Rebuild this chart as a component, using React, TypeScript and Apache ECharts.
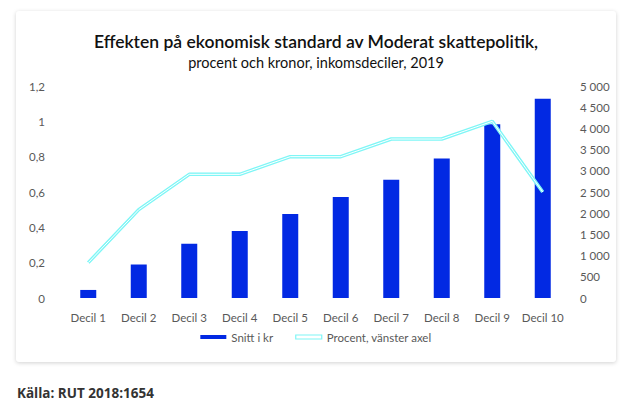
import React, { useEffect, useRef } from "react";
import * as echarts from "echarts";

const categories = ["Decil 1", "Decil 2", "Decil 3", "Decil 4", "Decil 5", "Decil 6", "Decil 7", "Decil 8", "Decil 9", "Decil 10"];
const snittKr = [190, 790, 1280, 1580, 1980, 2380, 2790, 3290, 4100, 4700];
const procent = [0.2, 0.5, 0.7, 0.7, 0.8, 0.8, 0.9, 0.9, 1.0, 0.6];
const titleText = "Effekten på ekonomisk standard av Moderat skattepolitik,";
const subtitleText = "procent och kronor, inkomsdeciler, 2019";
const sourceText = "Källa: RUT 2018:1654";

const fmtLeft = (v: number) => String(Number(v.toFixed(1))).replace(".", ",");
const fmtRight = (v: number) => String(v).replace(/\B(?=(\d{3})+(?!\d))/g, " ");

export default function App() {
  const ref = useRef<HTMLDivElement>(null);
  useEffect(() => {
    if (!ref.current) return;
    const chart = echarts.init(ref.current, undefined, { renderer: "svg" });
    const labelColor = "#595959";
    chart.setOption({
      animation: false,
      textStyle: { fontFamily: "Lato" },
      title: [
        {
          text: titleText,
          left: "center",
          top: 16,
          textStyle: { fontFamily: "Lato", fontSize: 17.5, fontWeight: 600, color: "#111" },
        },
        {
          text: subtitleText,
          left: "center",
          top: 39,
          textStyle: { fontFamily: "Lato", fontSize: 14.5, fontWeight: 400, color: "#111" },
        },
      ],
      legend: {
        bottom: 14,
        left: "center",
        itemGap: 22,
        itemWidth: 26,
        itemHeight: 4,
        textStyle: { fontFamily: "Lato", fontSize: 11.5, color: labelColor },
        data: [
          { name: "Snitt i kr", icon: "rect", itemStyle: { color: "#0229e3" } },
          {
            name: "Procent, vänster axel",
            icon: "rect",
            itemStyle: { color: "#ffffff", borderColor: "#7ff6f6", borderWidth: 1.2 },
          },
        ],
      },
      grid: { left: 47, right: 48, top: 75, bottom: 64 },
      xAxis: {
        type: "category",
        data: categories,
        axisLine: { show: false },
        axisTick: { show: false },
        axisLabel: { color: labelColor, fontSize: 11.5, margin: 13, interval: 0, fontFamily: "Lato" },
      },
      yAxis: [
        {
          type: "value",
          min: 0,
          max: 1.2,
          interval: 0.2,
          splitLine: { show: false },
          axisLine: { show: false },
          axisTick: { show: false },
          axisLabel: { color: labelColor, fontSize: 11.5, margin: 18, formatter: fmtLeft, fontFamily: "Lato" },
        },
        {
          type: "value",
          min: 0,
          max: 5000,
          interval: 500,
          position: "right",
          splitLine: { show: false },
          axisLine: { show: false },
          axisTick: { show: false },
          axisLabel: { color: labelColor, fontSize: 11.5, margin: 12, formatter: fmtRight, fontFamily: "Lato" },
        },
      ],
      series: [
        {
          name: "Snitt i kr",
          type: "bar",
          yAxisIndex: 1,
          data: snittKr,
          barWidth: 16,
          itemStyle: { color: "#0229e3" },
          z: 1,
        },
        {
          name: "Procent, vänster axel",
          type: "line",
          yAxisIndex: 0,
          data: procent,
          symbol: "none",
          itemStyle: { color: "#7ff6f6" },
          lineStyle: { color: "#7ff6f6", width: 3.5 },
          z: 3,
        },
        {
          name: "procent-inner",
          type: "line",
          yAxisIndex: 0,
          data: procent,
          symbol: "none",
          silent: true,
          lineStyle: { color: "#ffffff", width: 1 },
          z: 4,
        },
      ],
    });
    return () => chart.dispose();
  }, []);

  return (
    <div
      style={{
        position: "fixed",
        left: 0,
        top: 0,
        width: 625,
        height: 409,
        background: "#ffffff",
        fontFamily: "'Open Sans', sans-serif",
      }}
    >
      <div
        style={{
          position: "absolute",
          left: 16,
          top: 11,
          width: 600,
          height: 351,
          background: "#ffffff",
          borderRadius: 3,
          boxShadow: "0 1px 4px rgba(0,0,0,0.18)",
        }}
      >
        <div ref={ref} style={{ width: 600, height: 351 }} />
      </div>
      <div
        style={{
          position: "absolute",
          left: 17,
          top: 383,
          fontSize: 13.5,
          fontWeight: 700,
          color: "#333",
          lineHeight: "20px",
        }}
      >
        {sourceText}
      </div>
    </div>
  );
}
